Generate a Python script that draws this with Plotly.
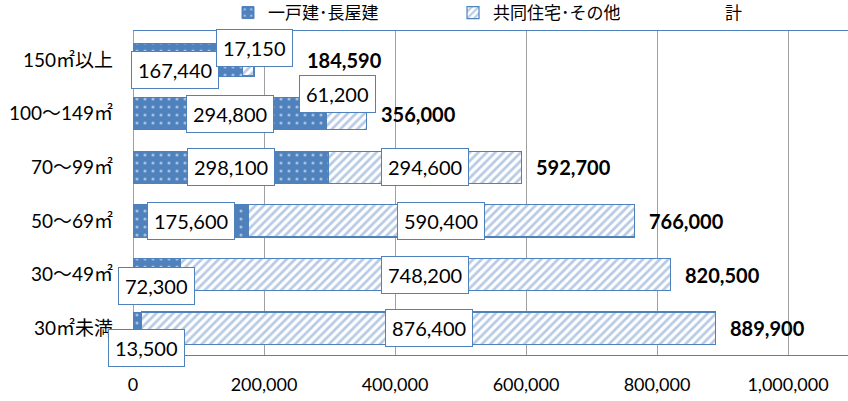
import plotly.graph_objects as go

# data (top row first)
categories = ["150㎡以上", "100〜149㎡", "70〜99㎡", "50〜69㎡", "30〜49㎡", "30㎡未満"]
detached = [167440, 294800, 298100, 175600, 72300, 13500]
apartment = [17150, 61200, 294600, 590400, 748200, 876400]
totals = [184590, 356000, 592700, 766000, 820500, 889900]
x_ticks = [0, 200000, 400000, 600000, 800000, 1000000]

# label nudges in pixels (x, y), same row order
det_shift = [(-13, -10), (0, 0), (0, 0), (0, 0), (0, -11), (9, -20)]
apt_shift = [(6, 12), (-9, 20), (0, 0), (0, 0), (0, 0), (0, 0)]
tot_shift = [51, 13, 13, 12, 13, 12]

BLUE = "#4f81bd"
NUM_FONT = "Lato, Noto Sans CJK JP"

fig = go.Figure()
fig.add_trace(go.Bar(
    y=categories, x=detached, orientation="h", name="一戸建･長屋建",
    marker=dict(color=BLUE, line=dict(color=BLUE, width=1),
                pattern=dict(shape=".", fgcolor="white", size=8, solidity=0.12,
                             fillmode="overlay")),
))
fig.add_trace(go.Bar(
    y=categories, x=apartment, orientation="h", name="共同住宅･その他",
    marker=dict(color="white", line=dict(color=BLUE, width=1.2),
                pattern=dict(shape="/", fgcolor="#6f95cc", size=6, solidity=0.45,
                             fillmode="overlay")),
))
# legend-only entry for the totals
fig.add_trace(go.Scatter(
    x=[None], y=[None], mode="markers", name="計", legend="legend2",
    marker=dict(color="rgba(0,0,0,0)"),
))

box = dict(bgcolor="white", bordercolor=BLUE, borderwidth=1, borderpad=6,
           showarrow=False, font=dict(family=NUM_FONT, size=20, color="black"))

for i, cat in enumerate(categories):
    fig.add_annotation(x=detached[i] / 2, y=cat, text=f"{detached[i]:,}",
                       xshift=det_shift[i][0], yshift=det_shift[i][1], **box)
    fig.add_annotation(x=detached[i] + apartment[i] / 2, y=cat, text=f"{apartment[i]:,}",
                       xshift=apt_shift[i][0], yshift=apt_shift[i][1], **box)
    fig.add_annotation(x=totals[i], y=cat, text=f"<b>{totals[i]:,}</b>",
                       xanchor="left", xshift=tot_shift[i], showarrow=False,
                       font=dict(family=NUM_FONT, size=20, color="black"))

legend_common = dict(orientation="h", yref="container", y=1 - 13 / 401,
                     yanchor="middle", xref="container", xanchor="left",
                     traceorder="normal", font=dict(size=17),
                     bgcolor="rgba(0,0,0,0)")

fig.update_layout(
    width=848, height=401,
    margin=dict(l=133, r=0, t=25, b=46),
    barmode="stack", bargap=0.4,
    plot_bgcolor="white", paper_bgcolor="white",
    font=dict(family=NUM_FONT, color="black"),
    legend=dict(x=228 / 848, entrywidth=180, entrywidthmode="pixels", **legend_common),
    legend2=dict(x=685 / 848, **legend_common),
    xaxis=dict(range=[0, 1091600], tickvals=x_ticks, tickformat=",d",
               showgrid=True, gridcolor="#a0a0a0", gridwidth=1,
               zeroline=True, zerolinecolor="#a0a0a0", zerolinewidth=1,
               showline=True, linecolor=BLUE, linewidth=1, mirror=True,
               tickfont=dict(size=18), ticklabelstandoff=13, automargin=False),
    yaxis=dict(autorange="reversed", showgrid=False, zeroline=False,
               tickfont=dict(size=19), ticklabelstandoff=19, automargin=False),
)

# drop the page's default body margin so the figure sits at the window corner
fig.write_html("out.html", config={"displayModeBar": False},
               post_script="document.body.style.margin = '0';")
